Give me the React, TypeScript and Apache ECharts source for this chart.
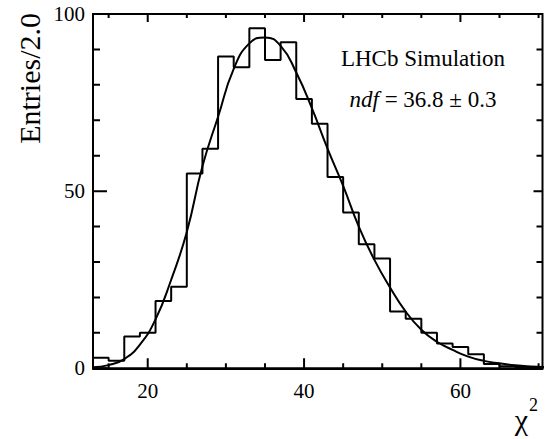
import React, { useEffect, useRef } from "react";
import * as echarts from "echarts";

// Histogram: left bin edges (width 2.0) and entries
const binEdges = [13, 15, 17, 19, 21, 23, 25, 27, 29, 31, 33, 35, 37, 39, 41, 43, 45, 47, 49, 51, 53, 55, 57, 59, 61, 63, 65, 67, 69];
const binValues = [3, 2.1, 9, 10, 19, 23, 55, 62, 88, 85, 96, 87, 92, 76, 69, 54, 44, 35, 31, 16, 14, 10, 7, 6, 4, 1.2, 0.6, 0.4, 0.3];
const lastEdge = 71;

// Fit curve points
const curveX = [13, 15, 17, 19, 21, 23, 25, 27, 29, 31, 33, 35, 37, 39, 41, 43, 45, 47, 49, 51, 53, 55, 57, 59, 61, 63, 65, 67, 69, 71];
const curveY = [0.3, 0.9, 2.6, 6.7, 13.8, 25, 38.5, 57, 71, 84.5, 91.7, 93.4, 91, 83.5, 73.4, 62, 51.5, 40, 30.6, 22.8, 16, 10.9, 7.5, 5.2, 3.3, 2.1, 1.4, 0.85, 0.52, 0.32];

// Axis ticks
const xMajorTicks = [20, 40, 60];
const xMinorTicks = [15, 25, 30, 35, 45, 50, 55, 65, 70];
const yMajorTicks = [0, 50, 100];
const yMinorTicks = [10, 20, 30, 40, 60, 70, 80, 90];
const xMin = 13;
const xMax = 70.5;
const yMin = 0;
const yMax = 100;
const yInterval = 50;

const FONT = "'Liberation Serif', 'Times New Roman', serif";
const W = 545;
const H = 439;
const GRID = { left: 93, right: 2.5, top: 14, bottom: 70.7 };

export default function App() {
  const ref = useRef<HTMLDivElement>(null);
  useEffect(() => {
    document.body.style.margin = "0";
    if (!ref.current) return;
    const chart = echarts.init(ref.current, null, { renderer: "svg" });
    const black = "#000000";
    const histData: number[][] = binEdges.map((e, i) => [e, binValues[i]]);
    histData.push([lastEdge, binValues[binValues.length - 1]]);
    const curveData = curveX.map((x, i) => [x, curveY[i]]);

    // convert tick lengths (pixels) to data units of the axes
    const pxPerX = (W - GRID.left - GRID.right) / (xMax - xMin);
    const pxPerY = (H - GRID.top - GRID.bottom) / (yMax - yMin);
    const tickSegs: any[] = [];
    const addX = (v: number, lb: number, lt: number) => {
      tickSegs.push([v, yMin], [v, yMin + lb / pxPerY], "-");
      tickSegs.push([v, yMax], [v, yMax - lt / pxPerY], "-");
    };
    const addY = (v: number, ll: number, lr: number) => {
      tickSegs.push([xMin, v], [xMin + ll / pxPerX, v], "-");
      tickSegs.push([xMax, v], [xMax - lr / pxPerX, v], "-");
    };
    xMajorTicks.forEach((v) => addX(v, 10, 8));
    xMinorTicks.forEach((v) => addX(v, 5, 4));
    yMajorTicks.forEach((v) => addY(v, 14, 9));
    yMinorTicks.forEach((v) => addY(v, 7, 6));

    chart.setOption({
      animation: false,
      grid: { ...GRID, show: true, borderColor: black, borderWidth: 2, backgroundColor: "transparent" },
      xAxis: {
        type: "value",
        min: xMin,
        max: xMax,
        axisLine: { show: true, lineStyle: { color: black, width: 2 } },
        axisTick: { show: false },
        axisLabel: { customValues: xMajorTicks, fontFamily: FONT, fontSize: 21, color: black, margin: 12 },
        splitLine: { show: false },
      },
      yAxis: {
        type: "value",
        min: yMin,
        max: yMax,
        interval: yInterval,
        axisLine: { show: true, lineStyle: { color: black, width: 2 } },
        axisTick: { show: false },
        axisLabel: { fontFamily: FONT, fontSize: 21, color: black, margin: 8 },
        splitLine: { show: false },
      },
      series: [
        { type: "line", data: histData, step: "end", symbol: "none", lineStyle: { color: black, width: 2 } },
        { type: "line", data: curveData, smooth: 0.5, symbol: "none", lineStyle: { color: black, width: 2 } },
        {
          type: "line",
          data: tickSegs,
          connectNulls: false,
          symbol: "none",
          clip: false,
          silent: true,
          lineStyle: { color: black, width: 2 },
        },
      ],
      graphic: [
        {
          type: "text",
          x: 29,
          y: 13,
          rotation: Math.PI / 2,
          style: { text: "Entries/2.0", fontFamily: FONT, fontSize: 30, fill: black, align: "right", verticalAlign: "middle" },
        },
        {
          type: "text",
          x: 423,
          y: 58,
          style: { text: "LHCb Simulation", fontFamily: FONT, fontSize: 23, fill: black, align: "center", verticalAlign: "middle" },
        },
        {
          type: "text",
          x: 423,
          y: 99,
          style: {
            text: "{i|ndf}{n| = 36.8 ± 0.3}",
            align: "center",
            verticalAlign: "middle",
            rich: {
              i: { fontFamily: FONT, fontSize: 23, fontStyle: "italic", fill: black },
              n: { fontFamily: FONT, fontSize: 23, fill: black },
            },
          },
        },
        {
          type: "text",
          x: 528,
          y: 419,
          style: { text: "χ", fontFamily: FONT, fontSize: 30, fill: black, align: "right", verticalAlign: "middle" },
        },
        {
          type: "text",
          x: 529,
          y: 405,
          style: { text: "2", fontFamily: FONT, fontSize: 18, fill: black, align: "left", verticalAlign: "middle" },
        },
      ],
    });
    return () => chart.dispose();
  }, []);
  return <div ref={ref} style={{ position: "absolute", left: 0, top: 0, width: W, height: H }} />;
}
